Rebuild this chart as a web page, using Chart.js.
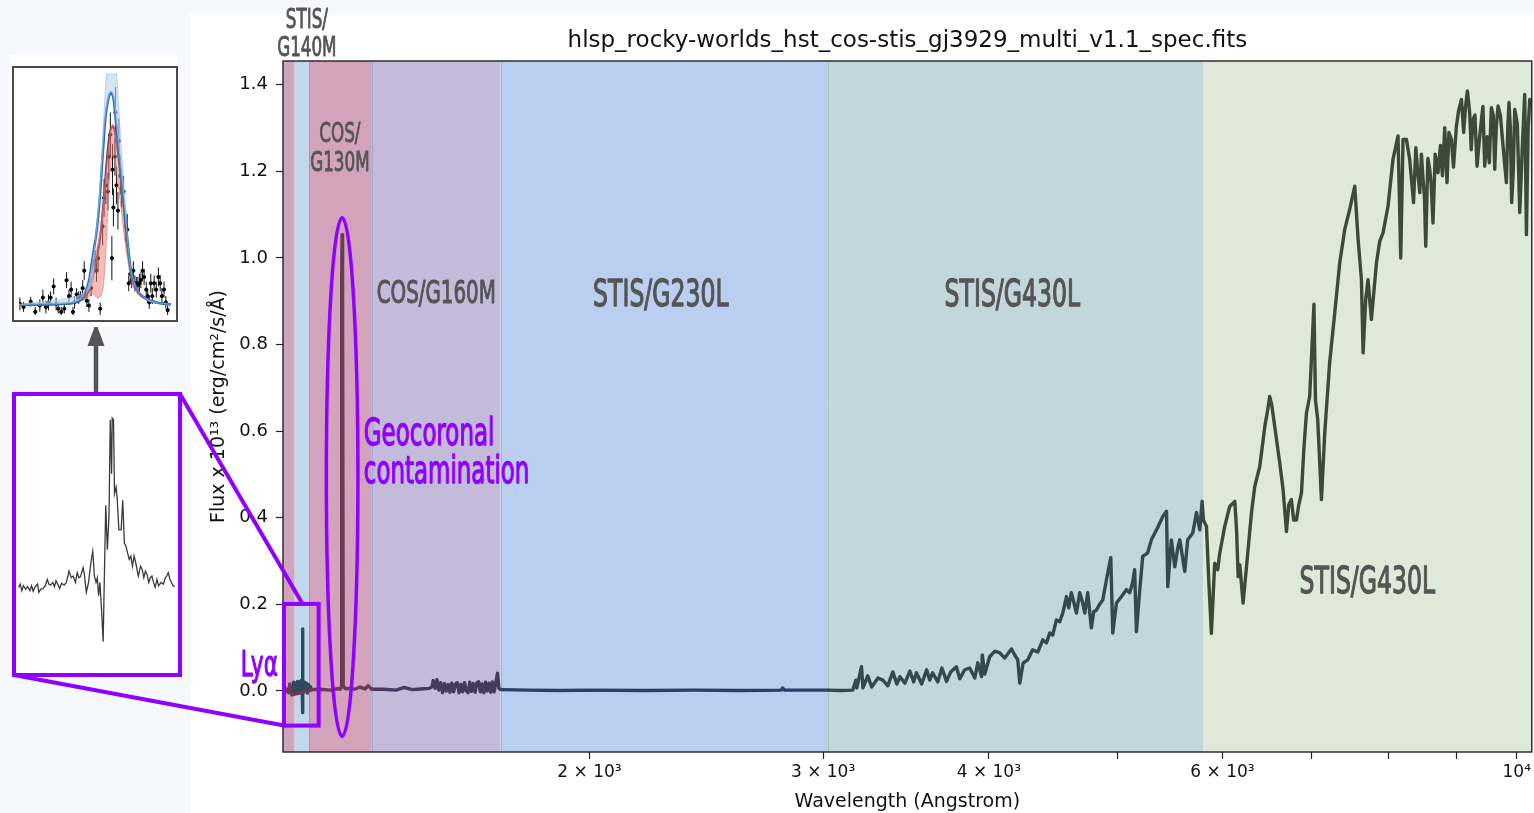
<!DOCTYPE html>
<html>
<head>
<meta charset="utf-8">
<title>GJ 3929 spectrum</title>
<script src="https://cdn.jsdelivr.net/npm/chart.js@4.4.1/dist/chart.umd.min.js"></script>
<style>
  html, body { margin: 0; padding: 0; }
  body { width: 1534px; height: 813px; background: #f6f8fc; position: relative; overflow: hidden; font-family: 'DejaVu Sans', sans-serif; }
  #sheet { position: absolute; left: 190px; top: 14px; right: 0; bottom: 0; background: #fff; }
  #main-wrap { position: absolute; left: 0; top: 0; width: 1534px; height: 813px; }
  #model-bg { position: absolute; left: 9px; top: 55px; width: 168px; height: 272px; background: #fff; }
  #model-box { position: absolute; left: 12px; top: 66px; width: 166px; height: 256px; box-sizing: border-box; border: 2px solid #4a4a4a; background: #fff; }
  #zoom-box { position: absolute; left: 12px; top: 392px; width: 170px; height: 285px; box-sizing: border-box; border: 4px solid #9000ff; background: #fff; }
  .fill { position: relative; width: 100%; height: 100%; }
</style>
</head>
<body>
<div id="sheet"></div>
<div id="main-wrap"><canvas id="main"></canvas></div>
<div id="model-bg"></div>
<div id="model-box"><div class="fill"><canvas id="model"></canvas></div></div>
<div id="zoom-box"><div class="fill"><canvas id="zoom"></canvas></div></div>
<script>
// ------------------------------------------------------------
// Spectrum segments (wavelength in Angstrom, flux x 1e13)
// ------------------------------------------------------------
const cosG130Wave = [1175, 1181, 1186, 1189, 1193, 1236, 1253, 1275, 1292, 1298, 1300, 1301, 1302, 1303, 1304.5, 1310, 1320, 1331, 1343, 1355, 1362, 1371];
const cosG130Flux = [0.002, 0.005, -0.004, 0.016, -0.009, 0.003, 0.004, 0.002, 0.005, 0.004, 0.010, 0.950, 1.054, 0.900, 0.010, 0.005, 0.006, 0.004, 0.009, 0.005, 0.012, 0.004];

const stisG140Wave = [1195, 1197, 1199, 1201, 1203, 1205, 1207, 1209, 1211, 1213, 1214.5, 1215.3, 1215.8, 1216.5, 1218, 1220, 1222, 1224, 1226, 1228, 1230, 1232, 1235];
const stisG140Flux = [0.003, 0.020, -0.006, 0.018, -0.004, 0.022, -0.006, 0.021, -0.003, 0.025, 0.020, 0.143, -0.050, 0.024, -0.002, 0.020, 0.000, 0.018, -0.005, 0.015, 0.002, 0.010, 0.003];

const cosG160Wave = [1371, 1400, 1430, 1450, 1470, 1500, 1515, 1522, 1525, 1530, 1535, 1540, 1545, 1550, 1555, 1560, 1565, 1570, 1575, 1580, 1585, 1590,
  1595, 1600, 1605, 1610, 1615, 1620, 1625, 1630, 1635, 1640, 1645, 1650, 1655, 1660, 1665, 1670, 1675, 1680, 1685, 1690, 1695, 1700, 1705, 1709, 1714];
const cosG160Flux = [0.004, 0.004, 0.002, 0.008, 0.003, 0.005, 0.006, 0.010, 0.024, 0.006, 0.026, 0.002, 0.019, -0.004, 0.017, 0.000, 0.015, -0.003, 0.018, -0.002, 0.016, 0.019,
  -0.004, 0.015, -0.002, 0.019, 0.001, -0.004, 0.020, -0.001, 0.017, -0.003, 0.019, 0.021, -0.002, 0.016, -0.004, 0.020, 0.000, 0.018, -0.003, 0.021, -0.002, 0.019, 0.041, 0.006, 0.004];

const stisG230Wave = [1714, 1800, 1900, 2000, 2200, 2400, 2600, 2790, 2797, 2805, 2900, 3026];
const stisG230Flux = [0.003, 0.002, 0.001, 0.002, 0.001, 0.002, 0.001, 0.002, 0.007, 0.002, 0.002, 0.002];

const stisG430Wave = [3026, 3089, 3159, 3176, 3181, 3207, 3215, 3242, 3264, 3300,
  3328, 3357, 3386, 3410, 3428, 3458, 3488, 3511, 3528, 3560,
  3591, 3610, 3628, 3661, 3687, 3717, 3744, 3781, 3803, 3836,
  3869, 3904, 3924, 3950, 3955, 3972, 4006, 4042, 4077, 4112,
  4160, 4184, 4206, 4221, 4245, 4280, 4316, 4355, 4393, 4421,
  4446, 4469, 4498, 4524, 4548, 4577, 4595, 4616, 4635, 4657,
  4684, 4708, 4725, 4749, 4779, 4799, 4822, 4850, 4875, 4906,
  4943, 4960, 4992, 5036, 5079, 5108, 5134, 5152, 5168, 5198,
  5225, 5270, 5304, 5351, 5382, 5410, 5445, 5457, 5491, 5524,
  5553, 5572, 5620, 5649, 5699, 5736, 5769, 5792, 5805];
const stisG430Flux = [0.002, 0.001, 0.002, 0.025, 0.007, 0.056, 0.007, 0.035, 0.009, 0.030,
  0.025, 0.012, 0.044, 0.016, 0.033, 0.018, 0.046, 0.021, 0.042, 0.016,
  0.049, 0.025, 0.042, 0.021, 0.053, 0.022, 0.044, 0.056, 0.028, 0.049,
  0.053, 0.030, 0.065, 0.033, 0.083, 0.039, 0.079, 0.092, 0.088, 0.076,
  0.097, 0.083, 0.072, 0.018, 0.064, 0.072, 0.095, 0.090, 0.118, 0.111,
  0.134, 0.129, 0.164, 0.160, 0.180, 0.218, 0.192, 0.227, 0.206, 0.180,
  0.227, 0.203, 0.180, 0.227, 0.146, 0.183, 0.187, 0.201, 0.210, 0.257,
  0.308, 0.134, 0.203, 0.218, 0.234, 0.227, 0.250, 0.280, 0.137, 0.234,
  0.311, 0.319, 0.349, 0.372, 0.388, 0.403, 0.415, 0.241, 0.349, 0.287,
  0.331, 0.349, 0.276, 0.349, 0.365, 0.412, 0.372, 0.438, 0.395];

const stisRedWave = [5805, 5836, 5859, 5886, 5920, 5951, 5972, 6024, 6076, 6130,
  6149, 6166, 6184, 6219, 6256, 6310, 6346, 6402, 6458, 6491,
  6513, 6536, 6570, 6628, 6666, 6705, 6732, 6763, 6790, 6823,
  6850, 6882, 6910, 6942, 6981, 7033, 7051, 7079, 7104, 7125,
  7166, 7227, 7291, 7355, 7419, 7483, 7549, 7593, 7637, 7659,
  7694, 7725, 7770, 7839, 7884, 7929, 7998, 8067, 8138, 8176,
  8209, 8257, 8304, 8360, 8393, 8420, 8451, 8475, 8499, 8520,
  8539, 8570, 8598, 8620, 8647, 8680, 8723, 8760, 8790, 8825,
  8860, 8890, 8927, 8960, 9006, 9040, 9085, 9120, 9150, 9179,
  9215, 9240, 9269, 9300, 9334, 9370, 9406, 9430, 9459, 9500,
  9535, 9569, 9600, 9625, 9650, 9680, 9720, 9755, 9790, 9822,
  9845, 9866, 9890, 9912, 9940, 9965, 10010, 10052, 10095, 10139,
  10169, 10200, 10228];
const stisRedFlux = [0.395, 0.380, 0.257, 0.133, 0.295, 0.280, 0.318, 0.380, 0.426, 0.438,
  0.372, 0.264, 0.291, 0.203, 0.287, 0.411, 0.472, 0.519, 0.611, 0.650,
  0.680, 0.661, 0.611, 0.526, 0.465, 0.368, 0.430, 0.442, 0.395, 0.395,
  0.430, 0.457, 0.557, 0.642, 0.680, 0.893, 0.673, 0.627, 0.526, 0.442,
  0.596, 0.758, 0.873, 0.989, 1.066, 1.112, 1.166, 1.043, 0.950, 0.781,
  0.904, 0.950, 0.858, 0.989, 1.039, 1.058, 1.120, 1.228, 1.282, 1.000,
  1.274, 1.274, 1.228, 1.128, 1.255, 1.200, 1.151, 1.240, 1.181, 1.140,
  1.027, 1.230, 1.205, 1.170, 1.081, 1.240, 1.197, 1.260, 1.190, 1.301,
  1.174, 1.290, 1.274, 1.210, 1.305, 1.340, 1.366, 1.290, 1.350, 1.386,
  1.336, 1.250, 1.320, 1.330, 1.212, 1.270, 1.320, 1.350, 1.212, 1.280,
  1.220, 1.347, 1.330, 1.205, 1.300, 1.351, 1.330, 1.274, 1.220, 1.174,
  1.300, 1.359, 1.300, 1.128, 1.200, 1.343, 1.310, 1.105, 1.250, 1.378,
  1.054, 1.300, 1.366];

// instrument coverage bands (Angstrom)
const bandStart = [1175, 1199, 1229, 1371, 1714, 3026, 5805];
const bandEnd   = [1199, 1229, 1371, 1714, 3026, 5805, 10264];

// axis ticks
const xTickValues = [2000, 3000, 4000, 5000, 6000, 7000, 8000, 9000, 10000];
const xTickLabels = ['2 \u00d7 10\u00b3', '3 \u00d7 10\u00b3', '4 \u00d7 10\u00b3', '', '6 \u00d7 10\u00b3', '', '', '', '10\u2074'];
const yTickValues = [0, 0.2, 0.4, 0.6, 0.8, 1.0, 1.2, 1.4];

// ------------------------------------------------------------
// Inset: Lya profile fit (arbitrary units, 0-100 box)
// ------------------------------------------------------------
const obsX = [0.6, 3.0, 7.7, 10.7, 13.7, 15.7, 17.7, 19.4, 20.8, 22.8, 24.4, 25.8, 27.8, 29.8, 31.3, 32.9, 34.3, 35.5, 36.5, 37.9,
  39.3, 40.5, 41.9, 42.9, 44.6, 46.0, 47.4, 48.6, 50.0, 51.0, 52.0, 53.4, 55.0, 56.0, 57.1, 58.5, 59.1, 60.1, 61.1, 61.5,
  62.1, 63.1, 63.5, 64.1, 65.1, 65.7, 66.7, 67.5, 68.8, 70.2, 71.2, 72.2, 73.2, 74.2, 75.2, 76.2, 77.2, 78.2, 79.2, 80.2,
  81.3, 82.3, 83.7, 84.7, 85.7, 86.7, 87.7, 88.9, 90.3, 91.7, 92.9, 94.0, 95.4, 96.6, 97.8];
const obsY = [4.6, 3.3, 5.5, 1.3, 3.9, 7.2, 3.3, 5.2, 7.2, 11.8, 4.6, 2.6, 1.3, 2.6, 14.4, 7.8, 10.5, 1.3, 5.2, 8.5,
  7.2, 7.8, 11.1, 18.3, 5.9, 3.9, 11.1, 20.9, 22.2, 18.3, 23.5, 2.6, 36.6, 48.4, 53.6, 51.0, 65.4, 74.5, 23.5, 60.1,
  44.4, 65.4, 83.7, 53.6, 43.1, 71.9, 57.5, 52.3, 51.0, 36.6, 35.3, 13.1, 17.0, 14.4, 18.3, 13.1, 13.1, 12.4, 13.1, 14.4,
  18.3, 15.7, 10.5, 7.8, 5.2, 13.1, 7.8, 13.1, 10.5, 15.7, 13.1, 7.8, 10.5, 5.2, 2.0];
const obsErr = [2.6, 2.0, 2.0, 2.0, 2.6, 3.3, 2.6, 3.3, 2.6, 3.3, 2.6, 2.0, 2.0, 2.0, 3.3, 2.6, 3.3, 2.0, 2.6, 2.6,
  2.6, 2.0, 3.3, 3.9, 2.6, 2.6, 3.3, 3.9, 4.6, 4.6, 5.2, 2.6, 7.8, 7.8, 7.8, 7.8, 9.2, 9.2, 9.2, 10.5,
  7.8, 7.8, 10.5, 7.8, 7.8, 9.2, 7.8, 7.8, 6.5, 6.5, 6.5, 3.3, 3.9, 3.3, 3.9, 3.3, 2.6, 3.3, 3.9, 3.3,
  3.9, 3.3, 3.3, 2.6, 2.6, 3.9, 3.3, 3.3, 3.3, 3.9, 3.3, 3.3, 3.3, 2.6, 2.0];

const blueModelX = [0, 20, 35, 40, 43, 46, 48, 50, 51, 53, 55, 57, 59, 60.5, 62, 63, 65, 68, 71, 74, 77, 79, 83, 87, 92, 100];
const blueModelY = [4.2, 4.4, 5.0, 6.2, 8.5, 14, 22, 30, 34, 47, 65.4, 82.4, 90, 92, 90, 85, 72, 53, 33, 17, 11.5, 9.2, 7, 5.9, 5.0, 4.4];
const blueUpperX = [0, 45, 50, 53, 55, 57, 59, 61, 63, 65, 67, 70, 73, 77, 85, 100];
const blueUpperY = [4.2, 10, 30, 50, 72, 95, 112, 118, 110, 92, 72, 44, 21, 11.5, 6, 4.4];
const redUpperX = [40, 45, 48, 50, 52, 54, 56, 58, 60, 61.5, 63, 65, 67, 69, 71, 74, 78, 85, 95];
const redUpperY = [6, 10, 17, 24, 30, 38, 50, 64, 75, 79, 77, 68, 56, 42, 30, 16, 9, 6, 4.6];
const redLowerX = [40, 45, 48, 50, 52, 54, 55.5, 57, 58.5, 60, 61.5, 63, 65, 67, 69, 71, 74, 78, 85, 95];
const redLowerY = [5.5, 7, 9, 8, 7, 8, 12, 25, 45, 60, 66, 64, 55, 45, 34, 25, 14, 8.5, 6, 4.5];
const combinedX = [0, 20, 35, 42, 46, 50, 53, 56, 58, 60, 62, 64, 66, 68, 70, 72, 75, 79, 85, 92, 100];
const combinedY = [4.2, 4.3, 4.8, 6.5, 10, 20, 30, 50, 66, 76, 78, 72, 62, 50, 36, 24, 14, 9, 6, 5, 4.4];

// ------------------------------------------------------------
// Inset: zoom on the Lya region of the spectrum (0-100 box)
// ------------------------------------------------------------
const zoomX = [1.6, 2.6, 3.6, 4.6, 6.0, 7.2, 8.6, 9.6, 10.6, 11.6, 13.3, 14.1, 15.3, 16.7, 18.1, 19.3, 20.3, 21.3, 22.7, 23.7,
  24.7, 25.7, 26.9, 28.1, 29.7, 31.1, 32.7, 34.1, 35.3, 36.7, 37.8, 38.8, 39.8, 41.4, 42.2, 43.4, 44.8, 46.2, 47.4, 48.4,
  49.4, 50.2, 51.0, 51.8, 53.0, 53.8, 54.4, 55.4, 56.4, 57.4, 58.2, 59.0, 59.4, 60.2, 60.8, 61.8, 62.4, 63.5, 64.9, 65.9,
  66.9, 67.9, 68.9, 69.9, 70.9, 71.9, 72.9, 73.9, 75.5, 76.9, 77.9, 78.9, 79.9, 80.9, 81.9, 82.9, 83.9, 84.9, 85.9, 87.0,
  88.0, 89.6, 91.0, 92.0, 93.0, 94.0, 95.0, 96.0, 97.0, 98.0];
const zoomY = [30.9, 32.1, 29.7, 31.5, 30.3, 31.2, 29.7, 31.5, 29.5, 30.9, 32.1, 29.1, 30.3, 30.5, 31.5, 33.8, 32.1, 31.7, 32.7, 31.2,
  33.3, 32.1, 30.5, 32.4, 31.7, 32.7, 36.8, 34.4, 35.0, 32.7, 36.2, 34.4, 34.8, 38.0, 35.6, 29.1, 32.7, 39.8, 43.9, 35.0,
  32.7, 34.4, 27.9, 32.7, 20.8, 11.3, 30.3, 60.6, 44.5, 56.4, 91.4, 71.9, 92.0, 91.4, 64.7, 67.1, 63.5, 51.7, 51.7, 62.4,
  46.9, 45.7, 43.3, 41.0, 42.2, 38.6, 42.2, 39.8, 35.0, 38.6, 37.4, 34.4, 36.8, 35.6, 32.7, 34.4, 35.0, 32.7, 30.9, 33.8,
  31.5, 32.7, 32.1, 34.1, 35.0, 36.2, 33.8, 32.7, 31.5, 31.2];

// ------------------------------------------------------------
// Styles / layout
// ------------------------------------------------------------
const PURPLE = '#9000ff';
const LABEL_GREY = '#555555';
const bandFill = ['#d2a3bb', '#c0d7ec', '#d2a3bb', '#c4bbdb', '#bacff0', '#c3d6dc', '#dee9d7'];
const bandEdge = [null, null, '#ac8fb6', '#96acdf', '#98b6da', '#a7c7b4', null];
const segColors = { g130: '#6a3a56', g140: '#2e4a5e', g160: '#463a60', g230: '#2c3f66', g430: '#36474e', red: '#3d4a37' };

const pts = (xs, ys) => xs.map((x, i) => ({ x: x, y: ys[i] }));

// narrow label text (stand-in for a condensed display face)
function squeezeText(ctx, text, x, y, size, color, align) {
  ctx.save();
  ctx.font = size + 'px "DejaVu Sans"';
  ctx.fillStyle = color;
  ctx.strokeStyle = color;
  ctx.lineWidth = size / 28;
  ctx.lineJoin = 'round';
  ctx.textBaseline = 'alphabetic';
  ctx.textAlign = 'left';
  const sx = 0.62;
  const w = ctx.measureText(text).width * sx;
  const left = align === 'left' ? x : (align === 'right' ? x - w : x - w / 2);
  ctx.translate(left, y);
  ctx.scale(sx, 1);
  ctx.fillText(text, 0, 0);
  ctx.strokeText(text, 0, 0);
  ctx.restore();
}

// text labels on the main plot, anchored to data coordinates
const plotLabels = [
  { lines: ['STIS/', 'G140M'], wave: 1224.7, flux: [1.531, 1.466], size: 27, color: LABEL_GREY },
  { lines: ['COS/', 'G130M'], wave: 1297, flux: [1.267, 1.202], size: 27, color: LABEL_GREY },
  { lines: ['COS/G160M'], wave: 1533, flux: [0.897], size: 32, color: LABEL_GREY },
  { lines: ['STIS/G230L'], wave: 2264, flux: [0.890], size: 38, color: LABEL_GREY },
  { lines: ['STIS/G430L'], wave: 4167, flux: [0.890], size: 38, color: LABEL_GREY },
  { lines: ['STIS/G430L'], wave: 7716, flux: [0.2266], size: 38, color: LABEL_GREY }
];

const bandPlugin = {
  id: 'bands',
  beforeDatasetsDraw(chart) {
    const { ctx, chartArea: a, scales: { x } } = chart;
    ctx.save();
    ctx.beginPath();
    ctx.rect(a.left, a.top, a.right - a.left, a.bottom - a.top);
    ctx.clip();
    bandStart.forEach((s, i) => {
      const x0 = x.getPixelForValue(s);
      const x1 = x.getPixelForValue(bandEnd[i]);
      ctx.fillStyle = bandFill[i];
      ctx.fillRect(x0, a.top, x1 - x0, a.bottom - a.top);
    });
    bandStart.forEach((s, i) => {
      if (!bandEdge[i]) return;
      const x0 = Math.round(x.getPixelForValue(s)) + 0.5;
      ctx.strokeStyle = bandEdge[i];
      ctx.lineWidth = 1;
      ctx.beginPath();
      ctx.moveTo(x0, a.top);
      ctx.lineTo(x0, a.bottom);
      ctx.stroke();
    });
    ctx.restore();
  },
  afterDraw(chart) {
    const { ctx, chartArea: a, scales: { x, y } } = chart;

    // frame
    ctx.save();
    ctx.strokeStyle = '#222';
    ctx.lineWidth = 1.4;
    ctx.strokeRect(a.left, a.top, a.right - a.left, a.bottom - a.top);

    // title
    ctx.font = '23px "DejaVu Sans"';
    ctx.fillStyle = '#111';
    ctx.textAlign = 'center';
    ctx.textBaseline = 'middle';
    ctx.fillText('hlsp_rocky-worlds_hst_cos-stis_gj3929_multi_v1.1_spec.fits', (a.left + a.right) / 2, 41);
    ctx.restore();

    // instrument labels
    plotLabels.forEach(l => {
      const cx = x.getPixelForValue(l.wave);
      l.lines.forEach((t, k) => squeezeText(ctx, t, cx, y.getPixelForValue(l.flux[k]), l.size, l.color, 'center'));
    });

    // geocoronal annotation
    const gx = x.getPixelForValue(1352);
    squeezeText(ctx, 'Geocoronal', gx, y.getPixelForValue(0.569), 37, PURPLE, 'left');
    squeezeText(ctx, 'contamination', gx, y.getPixelForValue(0.481), 37, PURPLE, 'left');
    squeezeText(ctx, 'Ly\u03b1', a.left - 5, y.getPixelForValue(0.035), 35, PURPLE, 'right');

    ctx.save();
    ctx.strokeStyle = PURPLE;
    ctx.lineWidth = 3.5;
    // ellipse round the O I 1304 line
    const ecx = x.getPixelForValue(1302);
    const ecy = y.getPixelForValue(0.494);
    const ery = y.getPixelForValue(0.494 - 0.599) - ecy;
    ctx.beginPath();
    ctx.ellipse(ecx, ecy, 15.8, ery, 0, 0, Math.PI * 2);
    ctx.stroke();

    // Lya box and the zoom lines
    const rl = x.getPixelForValue(1177), rr = x.getPixelForValue(1250);
    const rt = y.getPixelForValue(0.201), rb = y.getPixelForValue(-0.080);
    ctx.lineWidth = 4;
    ctx.strokeRect(rl, rt, rr - rl, rb - rt);
    ctx.beginPath();
    ctx.moveTo(180, 394);
    ctx.lineTo(x.getPixelForValue(1215.7), rt);
    ctx.moveTo(14, 675);
    ctx.lineTo(rl, rb);
    ctx.stroke();

    // grey arrow between the two insets
    ctx.strokeStyle = '#555';
    ctx.fillStyle = '#555';
    ctx.lineWidth = 4.5;
    ctx.beginPath();
    ctx.moveTo(96, 393);
    ctx.lineTo(96, 340);
    ctx.stroke();
    ctx.beginPath();
    ctx.moveTo(87.5, 346);
    ctx.lineTo(104.5, 346);
    ctx.lineTo(96, 323);
    ctx.closePath();
    ctx.fill();
    ctx.restore();
  }
};

const lineStyle = color => ({ borderColor: color, borderWidth: 3.4, pointRadius: 0, tension: 0, borderJoinStyle: 'round', borderCapStyle: 'round', fill: false });

new Chart(document.getElementById('main'), {
  type: 'line',
  data: {
    datasets: [
      Object.assign({ label: 'COS/G130M', data: pts(cosG130Wave, cosG130Flux) }, lineStyle(segColors.g130)),
      Object.assign({ label: 'STIS/G140M', data: pts(stisG140Wave, stisG140Flux) }, lineStyle(segColors.g140)),
      Object.assign({ label: 'COS/G160M', data: pts(cosG160Wave, cosG160Flux) }, lineStyle(segColors.g160)),
      Object.assign({ label: 'STIS/G230L', data: pts(stisG230Wave, stisG230Flux) }, lineStyle(segColors.g230)),
      Object.assign({ label: 'STIS/G430L', data: pts(stisG430Wave, stisG430Flux) }, lineStyle(segColors.g430)),
      Object.assign({ label: 'STIS/G750L', data: pts(stisRedWave, stisRedFlux) }, lineStyle(segColors.red))
    ]
  },
  options: {
    responsive: true,
    maintainAspectRatio: false,
    animation: false,
    layout: { padding: { left: 206, top: 61, right: 2, bottom: 0 } },
    plugins: { legend: { display: false }, tooltip: { enabled: false } },
    scales: {
      x: {
        type: 'logarithmic',
        min: 1175,
        max: 10264,
        afterFit: s => { s.height = 61; },
        afterBuildTicks: s => { s.ticks = xTickValues.map(v => ({ value: v })); },
        ticks: {
          autoSkip: false,
          maxRotation: 0,
          padding: 3,
          color: '#111',
          font: { family: 'DejaVu Sans', size: 17 },
          callback: v => xTickLabels[xTickValues.indexOf(v)]
        },
        grid: { drawOnChartArea: false, drawTicks: true, tickLength: 7, tickWidth: 1.2, tickColor: '#222' },
        border: { display: false },
        title: { display: true, text: 'Wavelength (Angstrom)', color: '#111', font: { family: 'DejaVu Sans', size: 19 }, padding: { top: 0, bottom: 0 } }
      },
      y: {
        type: 'linear',
        min: -0.141,
        max: 1.455,
        afterFit: s => { s.width = 77; },
        afterBuildTicks: s => { s.ticks = yTickValues.map(v => ({ value: v })); },
        ticks: {
          padding: 8,
          color: '#111',
          font: { family: 'DejaVu Sans', size: 18 },
          callback: v => Number(v).toFixed(1)
        },
        grid: { drawOnChartArea: false, drawTicks: true, tickLength: 7, tickWidth: 1.2, tickColor: '#222' },
        border: { display: false },
        title: { display: true, text: 'Flux x 10\u00b9\u00b3 (erg/cm\u00b2/s/\u00c5)', color: '#111', font: { family: 'DejaVu Sans', size: 19 }, padding: { top: 2, bottom: 0 } }
      }
    }
  },
  plugins: [bandPlugin]
});

// error bars for the observed Lya points (dataset 5 of the model inset)
const errorBarPlugin = {
  id: 'errorBars',
  beforeDatasetDraw(chart, args) {
    if (args.index !== 5) return;
    const { ctx, chartArea: a, scales: { x, y } } = chart;
    ctx.save();
    ctx.beginPath();
    ctx.rect(a.left, a.top, a.right - a.left, a.bottom - a.top);
    ctx.clip();
    ctx.strokeStyle = '#111';
    ctx.lineWidth = 1;
    obsX.forEach((v, i) => {
      const px = x.getPixelForValue(v);
      ctx.beginPath();
      ctx.moveTo(px, y.getPixelForValue(obsY[i] - obsErr[i]));
      ctx.lineTo(px, y.getPixelForValue(obsY[i] + obsErr[i]));
      ctx.stroke();
    });
    ctx.restore();
  }
};

const insetOptions = {
  responsive: true,
  maintainAspectRatio: false,
  animation: false,
  layout: { padding: 0 },
  plugins: { legend: { display: false }, tooltip: { enabled: false } },
  scales: {
    x: { type: 'linear', min: 0, max: 100, display: false },
    y: { type: 'linear', min: 0, max: 100, display: false }
  }
};

new Chart(document.getElementById('model'), {
  type: 'line',
  data: {
    datasets: [
      { data: pts(blueUpperX, blueUpperY), borderColor: 'rgba(150,190,228,0.6)', borderWidth: 1, pointRadius: 0, tension: 0.3, fill: '+1', backgroundColor: 'rgba(182,210,236,0.6)' },
      { data: pts(blueModelX, blueModelY), borderColor: '#2a72b2', borderWidth: 2.5, pointRadius: 0, tension: 0.3, fill: false },
      { data: pts(redUpperX, redUpperY), borderColor: 'rgba(226,112,104,0.55)', borderWidth: 1, pointRadius: 0, tension: 0.3, fill: '+1', backgroundColor: 'rgba(236,122,112,0.5)' },
      { data: pts(redLowerX, redLowerY), borderColor: 'rgba(226,112,104,0.6)', borderWidth: 1, pointRadius: 0, tension: 0.3, fill: false },
      { data: pts(combinedX, combinedY), borderColor: '#6e3d6c', borderWidth: 2, pointRadius: 0, tension: 0.3, fill: false },
      { data: pts(obsX, obsY), showLine: false, pointRadius: 1.6, pointBackgroundColor: '#000', pointBorderColor: '#000', borderColor: '#000' }
    ]
  },
  options: insetOptions,
  plugins: [errorBarPlugin]
});

new Chart(document.getElementById('zoom'), {
  type: 'line',
  data: {
    datasets: [
      { data: pts(zoomX, zoomY), borderColor: '#3a3a3a', borderWidth: 1.3, pointRadius: 0, tension: 0, fill: false }
    ]
  },
  options: insetOptions
});
</script>
</body>
</html>
